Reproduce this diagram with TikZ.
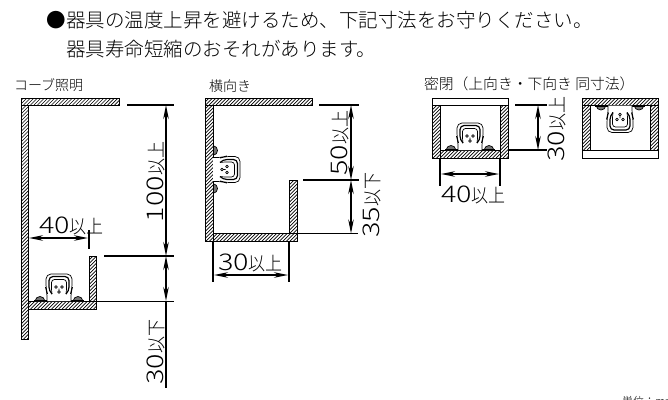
\documentclass[tikz,border=0pt]{standalone}
\usepackage{fontspec}
\setmainfont{Noto Sans CJK JP Light}
\usetikzlibrary{arrows.meta}
\tikzset{
  x=1pt,y=-1pt,
  txt/.style={inner sep=0pt,outer sep=0pt,text=black},
  lead/.style={txt,anchor=west,font=\fontsize{19.5pt}{19.5pt}\selectfont},
  captxt/.style={txt,anchor=west,font=\fontsize{14pt}{14pt}\selectfont},
  captxtwide/.style={txt,anchor=west,font=\fontsize{14.8pt}{14.8pt}\selectfont},
  dimtxt/.style={txt,font=\fontsize{17pt}{17pt}\selectfont},
  wall/.style={draw=black,line width=.9pt,fill=white},
  tickline/.style={line width=1.3pt,black},
  dimline/.style={line width=1.1pt,black,{Stealth[length=14pt,width=5.5pt]}-{Stealth[length=14pt,width=5.5pt]}},
  hatchline/.style={line width=.7pt,black},
  fixline/.style={line width=.7pt,black,line join=round},
  fixthick/.style={line width=1.2pt,black,line join=round}
}
\newcommand{\hatchbox}[4]{%
  \begin{scope}
    \clip (#1,#2) rectangle (#3,#4);
    \foreach \k in {-400,-396.5,...,1100} {\draw[hatchline] (\k,#4) -- ++(#4-#2,#2-#4);}
  \end{scope}
  \draw[wall,fill=none] (#1,#2) rectangle (#3,#4);
}
\newcommand{\dimlabel}[2]{\scalebox{1.25}[1]{\fontsize{23pt}{23pt}\selectfont #1}\scalebox{1}[1.1]{#2}}
\newcommand{\fixture}{%
  \draw[fixline,fill=black!55] (-24,0) .. controls (-23,-6) and (-15,-6) .. (-14,0);
  \draw[fixline,fill=black!55] (14,0) .. controls (15,-6) and (23,-6) .. (24,0);
  \draw[fixthick] (-25,-.5) -- (-12,-.5) (12,-.5) -- (25,-.5);
  \draw[fixline,fill=white,rounded corners=5pt] (-12,0) -- (-12,-9) -- (-13,-12) -- (-13,-27) -- (13,-27) -- (13,-12) -- (12,-9) -- (12,0);
  \draw[fixthick,rounded corners=4pt] (-7,-7) -- (-10,-10) -- (-10,-24.5) -- (10,-24.5) -- (10,-10) -- (7,-7);
  \draw[fixline,rounded corners=3pt] (-7,-7) -- (-7.5,-10) -- (-7.5,-21.5) -- (7.5,-21.5) -- (7.5,-10) -- (7,-7);
  \draw[fixline] (-3,-14) circle[radius=1.4] (3,-14) circle[radius=1.4] (0,-9) circle[radius=1.4] (0,-12.5) -- (0,-10.5);
}
\begin{document}
\begin{tikzpicture}
\useasboundingbox (0,0) rectangle (668,399);
\fill[white] (0,0) rectangle (668,399);
\node[lead] (l1) at (46.5,20) {●器具の温度上昇を避けるため、下記寸法をお守りください。};
\node[lead] (l2) at (66,49) {器具寿命短縮のおそれがあります。};
\node[captxt] (c1) at (14,85) {コーブ照明};
\node[captxt] (c2) at (209,86) {横向き};
\node[captxtwide] (c3) at (424,84) {密閉（上向き・下向き 同寸法）};
\node[txt,anchor=west,font=\fontsize{11pt}{11pt}\selectfont] (unit) at (622,401) {単位：mm};

% cove
\hatchbox{21}{98}{119}{105}
\hatchbox{21}{105}{28.5}{339}
\hatchbox{28.5}{301}{96}{309}
\hatchbox{89}{256}{96}{301}
\begin{scope}[shift={(59,301)}]\fixture\end{scope}
\draw[tickline] (127,105) -- (174,105) (104,256) -- (174,256) (96,301.5) -- (174,301.5);
\draw[tickline] (89,230) -- (89,249);
\draw[dimline] (166,105) -- (166,256);
\draw[dimline] (166,256) -- (166,301);
\draw[line width=1.1pt] (166,301) -- (166,388);
\draw[dimline] (29,238) -- (88,238);
\node[dimtxt,anchor=west] (t40a) at (39,226) {\dimlabel{40}{以上}};
\node[dimtxt,rotate=90] (t100) at (156,182) {\dimlabel{100}{以上}};
\node[dimtxt,rotate=90] (t30a) at (156,352) {\dimlabel{30}{以下}};

% side
\hatchbox{205}{98}{312}{105}
\hatchbox{205}{105}{213}{241.5}
\hatchbox{213}{233.5}{297}{241.5}
\hatchbox{289.5}{180}{297}{233.5}
\begin{scope}[shift={(213,169.5)},rotate=-90]\fixture\end{scope}
\draw[tickline] (319,105) -- (359,105) (303,180) -- (359,180) (297,233.5) -- (358,233.5);
\draw[tickline] (213,241.5) -- (213,282) (289,241.5) -- (289,282);
\draw[dimline] (351,105) -- (351,180);
\draw[dimline] (351,180) -- (351,233.5);
\draw[dimline] (214,275) -- (288,275);
\node[dimtxt,anchor=west] (t30b) at (218,263) {\dimlabel{30}{以上}};
\node[dimtxt,rotate=90] (t50) at (340,143) {\dimlabel{50}{以上}};
\node[dimtxt,rotate=90] (t35) at (372,205) {\dimlabel{35}{以下}};

% sealed, upward
\draw[wall] (432,98) rectangle (508,105.5);
\hatchbox{432}{105.5}{440}{158}
\hatchbox{500}{105.5}{508}{158}
\hatchbox{440}{150}{500}{158}
\begin{scope}[shift={(470,150)}]\fixture\end{scope}
\draw[tickline] (515,105) -- (547,105) (508,150) -- (547,150);
\draw[tickline] (440,158) -- (440,186) (500,158) -- (500,186);
\draw[dimline] (538,105) -- (538,150);
\draw[dimline] (441,174) -- (499,174);
\node[dimtxt,anchor=west] (t40b) at (441,195) {\dimlabel{40}{以上}};
\node[dimtxt,rotate=90] (t30c) at (557,129) {\dimlabel{30}{以上}};

% sealed, downward
\hatchbox{582}{98}{658}{105.5}
\hatchbox{582}{105.5}{590}{150}
\hatchbox{650}{105.5}{658}{150}
\draw[wall] (582,150) rectangle (658,158);
\begin{scope}[shift={(620,105.5)},yscale=-1]\fixture\end{scope}
\end{tikzpicture}
\end{document}
